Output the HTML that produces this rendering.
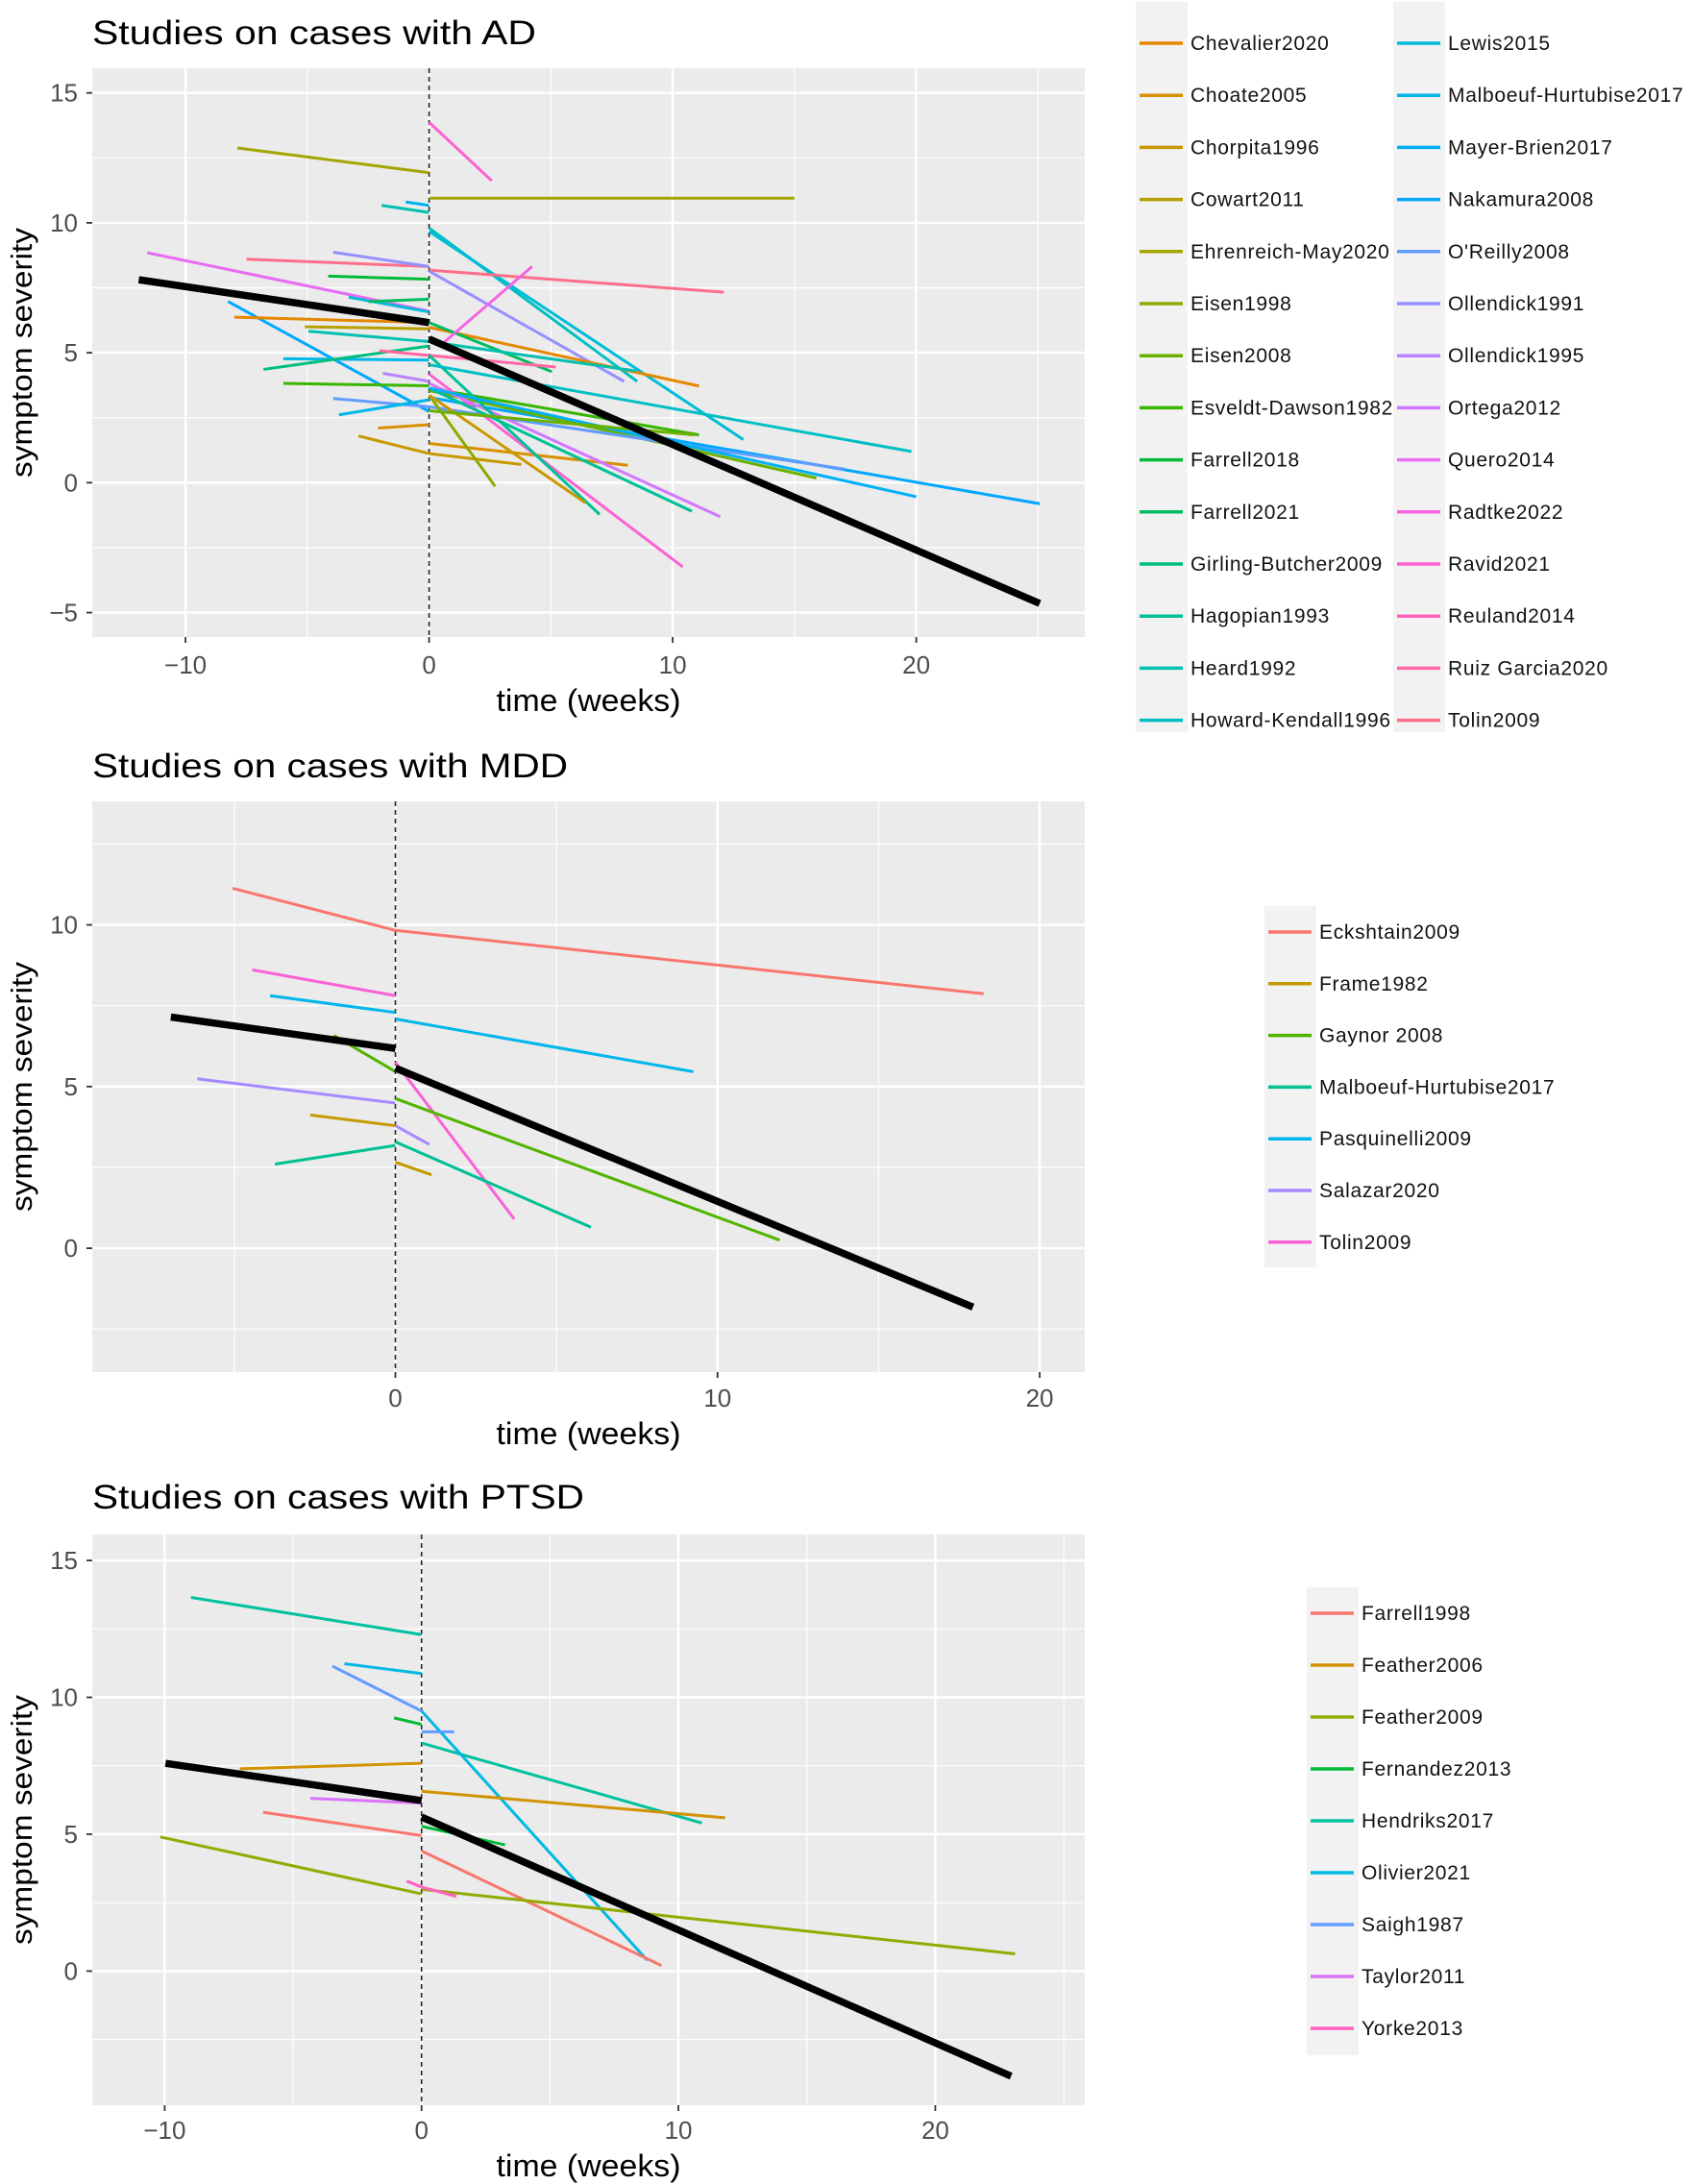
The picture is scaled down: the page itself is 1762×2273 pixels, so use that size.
<!DOCTYPE html>
<html><head><meta charset="utf-8">
<style>
html,body{margin:0;padding:0;background:#fff;}
svg{display:block;font-family:"Liberation Sans",Arial,sans-serif;}
</style></head>
<body>
<svg id="chart" width="1762" height="2273" viewBox="0 0 1762 2273" xmlns="http://www.w3.org/2000/svg"></svg>
<script>
// ---------- DATA: AD ----------
const adStudies = ["Chevalier2020","Choate2005","Chorpita1996","Cowart2011","Ehrenreich-May2020","Eisen1998","Eisen2008","Esveldt-Dawson1982","Farrell2018","Farrell2021","Girling-Butcher2009","Hagopian1993","Heard1992","Howard-Kendall1996","Lewis2015","Malboeuf-Hurtubise2017","Mayer-Brien2017","Nakamura2008","O'Reilly2008","Ollendick1991","Ollendick1995","Ortega2012","Quero2014","Radtke2022","Ravid2021","Reuland2014","Ruiz Garcia2020","Tolin2009"];
const adSegStudy = [4,4,24,12,16,13,14,27,27,22,19,19,8,17,17,0,0,14,9,9,3,12,12,15,10,26,26,7,7,6,20,18,18,15,1,1,2,2,5,24,21,11,11,13,16,2,6,23];
const adX1 = [-7.87,0,0,-1.95,-0.96,0,0,-7.5,0,-11.57,-3.94,0,-4.14,-8.25,0,-8.0,0,-3.3,-2.48,0,-5.1,-4.96,0,-5.98,-6.8,-2.04,0,-5.98,0,0,-1.9,-3.94,0,-3.7,-2.1,0,-2.9,0,0,0,0,0,0,0,0,0,0,0.44];
const adY1 = [12.88,10.95,13.87,10.67,10.8,9.8,9.67,8.6,8.18,8.85,8.87,8.14,7.95,6.97,3.28,6.37,5.98,7.14,6.97,6.16,6.0,5.83,5.43,4.77,4.36,5.08,4.9,3.82,3.64,3.55,4.21,3.24,2.92,2.61,2.1,1.51,1.8,1.12,3.37,4.18,3.82,4.9,3.64,4.54,3.64,3.37,2.77,5.26];
const adX2 = [0,15,2.57,0,0,8.54,12.9,0,12.1,0,0,8.0,0,0,25.07,0,11.08,0,0,5.04,0,0,8.5,0,0,0,5.2,0,11.08,15.9,0,0,17.06,0,0,8.16,0,3.79,2.71,10.41,11.95,7.0,10.79,19.8,20.0,6.41,10.9,4.23];
const adY2 = [11.93,10.95,11.62,10.4,10.67,3.9,1.66,8.32,7.33,6.6,8.32,3.9,7.83,2.74,-0.81,6.16,3.72,6.57,7.06,4.27,5.92,5.43,4.3,4.72,5.26,4.9,4.45,3.73,1.84,0.18,3.9,2.92,0.52,3.19,2.23,0.67,1.12,0.7,-0.14,-3.24,-1.31,-1.22,-1.1,1.2,-0.54,-0.77,1.84,8.32];
const adPooledX = [-11.92,0,0,25.07];
const adPooledY = [7.81,6.16,5.53,-4.65];

// ---------- DATA: MDD ----------
const mddStudies = ["Eckshtain2009","Frame1982","Gaynor 2008","Malboeuf-Hurtubise2017","Pasquinelli2009","Salazar2020","Tolin2009"];
const mddSegStudy = [0,0,6,6,4,4,2,2,5,5,1,1,3,3];
const mddX1 = [-5.05,0,-4.44,0,-3.89,0,-1.91,0,-6.15,0,-2.64,0,-3.74,0];
const mddY1 = [11.13,9.83,8.61,5.75,7.81,7.09,6.58,4.63,5.24,3.79,4.12,2.66,2.6,3.29];
const mddX2 = [0,18.26,0,3.69,0,9.25,0,11.93,0,1.05,0,1.12,0,6.07];
const mddY2 = [9.83,7.87,7.81,0.9,7.29,5.46,5.46,0.25,4.49,3.21,3.79,2.27,3.18,0.65];
const mddPooledX = [-6.97,0,0,17.93];
const mddPooledY = [7.15,6.18,5.57,-1.82];

// ---------- DATA: PTSD ----------
const ptsdStudies = ["Farrell1998","Feather2006","Feather2009","Fernandez2013","Hendriks2017","Olivier2021","Saigh1987","Taylor2011","Yorke2013"];
const ptsdSegStudy = [4,4,5,5,6,6,3,3,1,1,7,0,0,2,2,8,8];
const ptsdX1 = [-8.98,0,-3.0,0,-3.47,0,-1.07,0,-7.08,0,-4.33,-6.17,0,-10.17,0,-0.58,0];
const ptsdY1 = [13.65,8.33,11.23,9.5,11.14,8.74,9.25,5.29,7.39,6.57,6.31,5.8,4.39,4.9,2.99,3.29,3.07];
const ptsdX2 = [0,10.91,0,8.79,0,1.27,0,3.25,0,11.82,0,0,9.34,0,23.11,0,1.35];
const ptsdY2 = [12.29,5.41,10.87,0.39,9.5,8.74,9.01,4.61,7.59,5.6,6.14,4.95,0.2,2.82,0.63,3.07,2.73];
const ptsdPooledX = [-9.97,0,0,22.95];
const ptsdPooledY = [7.59,6.23,5.63,-3.84];

const adXTicks = [-10,0,10,20], adYTicks = [-5,0,5,10,15];
const mddXTicks = [0,10,20], mddYTicks = [0,5,10];
const ptsdXTicks = [-10,0,10,20], ptsdYTicks = [0,5,10,15];

// ---------- helpers ----------
const NS = "http://www.w3.org/2000/svg";
const svg = document.getElementById('chart');
function mk(tag, attrs, parent){
  const e = document.createElementNS(NS, tag);
  for (const k in attrs) e.setAttribute(k, attrs[k]);
  (parent||svg).appendChild(e);
  return e;
}
function hcl(h){ // ggplot hue: c=100, l=65
  const L=65, C=100, hr=h*Math.PI/180;
  const U=C*Math.cos(hr), V=C*Math.sin(hr);
  const Xn=95.047,Yn=100,Zn=108.883;
  const un=4*Xn/(Xn+15*Yn+3*Zn), vn=9*Yn/(Xn+15*Yn+3*Zn);
  const Y = Yn*Math.pow((L+16)/116,3);
  const u=U/(13*L)+un, v=V/(13*L)+vn;
  const X = Y*9*u/(4*v), Z = Y*(12-3*u-20*v)/(4*v);
  const x=X/100,y=Y/100,z=Z/100;
  let r=3.2406*x-1.5372*y-0.4986*z, g=-0.9689*x+1.8758*y+0.0415*z, b=0.0557*x-0.2040*y+1.0570*z;
  const f=c=>{c=c<=0.0031308?12.92*c:1.055*Math.pow(c,1/2.4)-0.055;return Math.max(0,Math.min(255,Math.round(c*255)));};
  return `rgb(${f(r)},${f(g)},${f(b)})`;
}
function palette(n, skip){ skip=skip||0; const tot=n+skip; const a=[]; for(let i=0;i<n;i++) a.push(hcl(15+360*(i+skip)/tot)); return a; }

function panel(cfg){
  const g = mk('g',{});
  
  
  const {L,R,T,B,xmin,xmax,ymin,ymax} = cfg;
  const sx = v => L + (v-xmin)/(xmax-xmin)*(R-L);
  const sy = v => B - (v-ymin)/(ymax-ymin)*(B-T);
  const bg = mk('rect',{x:L,y:T,width:R-L,height:B-T,fill:'#EBEBEB'},g);
  
  
  for (let i=0;i<cfg.xt.length+1;i++){
    const v = (cfg.xt[0]-5)+10*i;
    if (v>xmin && v<xmax) mk('line',{x1:sx(v),x2:sx(v),y1:T,y2:B,stroke:'#fff','stroke-width':1.2},g);
  }
  for (let v=Math.ceil(ymin/5)*5-2.5; v<ymax; v+=5){
    if (v>ymin) mk('line',{x1:L,x2:R,y1:sy(v),y2:sy(v),stroke:'#fff','stroke-width':1.2},g);
  }
  cfg.xt.forEach(v=>{
    mk('line',{x1:sx(v),x2:sx(v),y1:T,y2:B,stroke:'#fff','stroke-width':2.4},g);
    mk('line',{x1:sx(v),x2:sx(v),y1:B,y2:B+6,stroke:'#333','stroke-width':1.8},g);
    const t = mk('text',{x:sx(v),y:cfg.xtickY,'text-anchor':'middle','font-size':26,fill:'#4D4D4D'},g);
    t.textContent = v<0 ? '\u2212'+(-v) : String(v);
    
    
  });
  cfg.yt.forEach(v=>{
    mk('line',{x1:L,x2:R,y1:sy(v),y2:sy(v),stroke:'#fff','stroke-width':2.4},g);
    mk('line',{x1:L-6,x2:L,y1:sy(v),y2:sy(v),stroke:'#333','stroke-width':1.8},g);
    const t = mk('text',{x:L-15,y:sy(v)+9,'text-anchor':'end','font-size':26,fill:'#4D4D4D'},g);
    t.textContent = v<0 ? '\u2212'+(-v) : String(v);
    
    
  });
  const z = mk('line',{x1:sx(0),x2:sx(0),y1:T,y2:B,stroke:'#222','stroke-width':1.6,'stroke-dasharray':'5,4'},g);
  
  
  const cols = palette(cfg.studies.length, cfg.skip);
  for (let i=0;i<cfg.segStudy.length;i++){
    const ln = mk('line',{x1:sx(cfg.x1[i]),y1:sy(cfg.y1[i]),x2:sx(cfg.x2[i]),y2:sy(cfg.y2[i]),stroke:cols[cfg.segStudy[i]],'stroke-width':3},g);
    
    
  }
  for (let i=0;i<cfg.px.length;i+=2){
    const ln = mk('line',{x1:sx(cfg.px[i]),y1:sy(cfg.py[i]),x2:sx(cfg.px[i+1]),y2:sy(cfg.py[i+1]),stroke:'#000','stroke-width':7.5},g);
    
    
  }
  const tt = mk('text',{x:L,y:cfg.titleY,'font-size':35,fill:'#000',textLength:cfg.titleW,lengthAdjust:'spacingAndGlyphs'},g);
  tt.textContent = cfg.title;
  
  
  const xt = mk('text',{x:(L+R)/2,y:cfg.xtitleY,'text-anchor':'middle','font-size':32,fill:'#000',textLength:192,lengthAdjust:'spacingAndGlyphs'},g);
  xt.textContent = 'time (weeks)';
  
  
  const yc=(T+B)/2;
  const yt = mk('text',{x:33,y:yc,transform:`rotate(-90 33 ${yc})`,'text-anchor':'middle','font-size':31,fill:'#000',textLength:260,lengthAdjust:'spacingAndGlyphs'},g);
  yt.textContent = 'symptom severity';
  
  
  const lg = mk('g',{},svg);
  
  
  cfg.legend.cols.forEach((c)=>{
    mk('rect',{x:c.kx,y:c.top,width:54,height:c.bottom-c.top,fill:'#F2F2F2'},lg);
    c.items.forEach((idx,ri)=>{
      const y = c.y0 + ri*cfg.legend.step;
      const k = mk('line',{x1:c.kx+4,x2:c.kx+49,y1:y,y2:y,stroke:cols[idx],'stroke-width':3.5},lg);
      
      
      const t = mk('text',{x:c.kx+57,y:y+7,'font-size':21,'letter-spacing':'0.7',fill:'#111'},lg);
      t.textContent = cfg.studies[idx];
      
      
    });
  });
}
const rng=(a,b)=>{const r=[];for(let i=a;i<b;i++)r.push(i);return r;};

panel({name:'ad',skip:2,title:'Studies on cases with AD',titleY:46,titleW:462,L:96,R:1129,T:71,B:663,xmin:-13.83,xmax:26.92,ymin:-5.94,ymax:15.95,
  xt:adXTicks,yt:adYTicks,xtickY:701,xtitleY:740,studies:adStudies,segStudy:adSegStudy,x1:adX1,y1:adY1,x2:adX2,y2:adY2,px:adPooledX,py:adPooledY,
  legend:{step:54.2,cols:[{kx:1182,top:2,bottom:762,y0:45,items:rng(0,14)},{kx:1450,top:2,bottom:762,y0:45,items:rng(14,28)}]}});
panel({name:'mdd',skip:0,title:'Studies on cases with MDD',titleY:809,titleW:495,L:96,R:1129,T:834,B:1428,xmin:-9.41,xmax:21.4,ymin:-3.83,ymax:13.82,
  xt:mddXTicks,yt:mddYTicks,xtickY:1464,xtitleY:1503,studies:mddStudies,segStudy:mddSegStudy,x1:mddX1,y1:mddY1,x2:mddX2,y2:mddY2,px:mddPooledX,py:mddPooledY,
  legend:{step:53.8,cols:[{kx:1316,top:943,bottom:1319,y0:970,items:rng(0,7)}]}});
panel({name:'ptsd',skip:0,title:'Studies on cases with PTSD',titleY:1570,titleW:512,L:96,R:1129,T:1597,B:2191,xmin:-12.82,xmax:25.82,ymin:-4.9,ymax:15.95,
  xt:ptsdXTicks,yt:ptsdYTicks,xtickY:2226,xtitleY:2265,studies:ptsdStudies,segStudy:ptsdSegStudy,x1:ptsdX1,y1:ptsdY1,x2:ptsdX2,y2:ptsdY2,px:ptsdPooledX,py:ptsdPooledY,
  legend:{step:54,cols:[{kx:1360,top:1652,bottom:2139,y0:1679,items:rng(0,9)}]}});
</script>
</body></html>
